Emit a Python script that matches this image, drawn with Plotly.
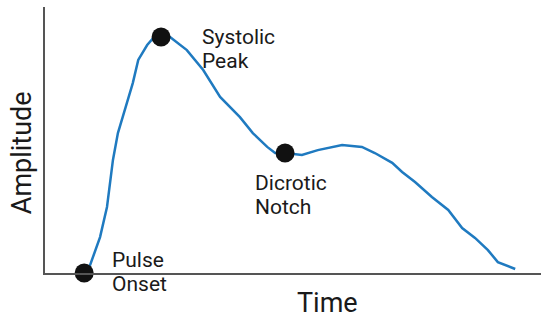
import plotly.graph_objects as go

# pulse waveform, time and amplitude in normalised units
time = [0.079, 0.091, 0.111, 0.125, 0.137, 0.147, 0.165, 0.177, 0.188, 0.206,
        0.218, 0.234, 0.252, 0.286, 0.319, 0.353, 0.393, 0.419, 0.448, 0.464,
        0.484, 0.518, 0.550, 0.599, 0.639, 0.665, 0.700, 0.720, 0.746, 0.780,
        0.813, 0.841, 0.867, 0.893, 0.913, 0.948]
amplitude = [0.000, 0.030, 0.135, 0.248, 0.425, 0.526, 0.639, 0.714, 0.801, 0.857,
             0.883, 0.887, 0.887, 0.838, 0.763, 0.662, 0.586, 0.526, 0.474, 0.451,
             0.451, 0.444, 0.462, 0.481, 0.474, 0.451, 0.414, 0.380, 0.342, 0.286,
             0.237, 0.169, 0.132, 0.086, 0.041, 0.015]

point_names = ["Pulse Onset", "Systolic Peak", "Dicrotic Notch"]
point_time = [0.079, 0.234, 0.484]
point_amp = [0.000, 0.887, 0.451]

LINE_BLUE = "#1f7ac0"
TEXT = "#1a1a1a"
FONT = "Roboto, Arial, sans-serif"

fig = go.Figure()
fig.add_trace(go.Scatter(
    x=time, y=amplitude, mode="lines",
    line=dict(color=LINE_BLUE, width=2.5),
    hoverinfo="skip",
))
fig.add_trace(go.Scatter(
    x=point_time, y=point_amp, mode="markers", text=point_names,
    marker=dict(color="#111111", size=19),
    cliponaxis=False,
))

# two-line labels as separate lines, for tighter spacing
labels = [
    ("Systolic", 0.313, 0.887), ("Peak", 0.313, 0.797),
    ("Dicrotic", 0.419, 0.340), ("Notch", 0.419, 0.250),
    ("Pulse", 0.131, 0.047), ("Onset", 0.131, -0.043),
]
for txt, x, y in labels:
    fig.add_annotation(x=x, y=y, xref="paper", yref="paper", text=txt,
                       showarrow=False, xanchor="left", yanchor="middle",
                       font=dict(size=21, color=TEXT, family=FONT))

fig.add_annotation(x=0.569, y=-0.113, xref="paper", yref="paper", text="Time",
                   showarrow=False, xanchor="center", yanchor="middle",
                   font=dict(size=27, color=TEXT, family=FONT))
fig.add_annotation(x=-0.046, y=0.451, xref="paper", yref="paper", text="Amplitude",
                   showarrow=False, xanchor="center", yanchor="middle", textangle=-90,
                   font=dict(size=27, color=TEXT, family=FONT))

axis_style = dict(showline=True, linecolor="#555555", linewidth=1.5,
                  showgrid=False, zeroline=False, showticklabels=False,
                  ticks="", range=[0, 1], fixedrange=True)
fig.update_xaxes(**axis_style)
fig.update_yaxes(**axis_style)

fig.update_layout(
    width=550, height=321,
    margin=dict(l=45, r=9, t=7, b=48),
    plot_bgcolor="white", paper_bgcolor="white",
    showlegend=False,
    font=dict(family=FONT),
)

fig.write_html("out.html", config=dict(displayModeBar=False),
               post_script="document.body.style.margin='0';")
